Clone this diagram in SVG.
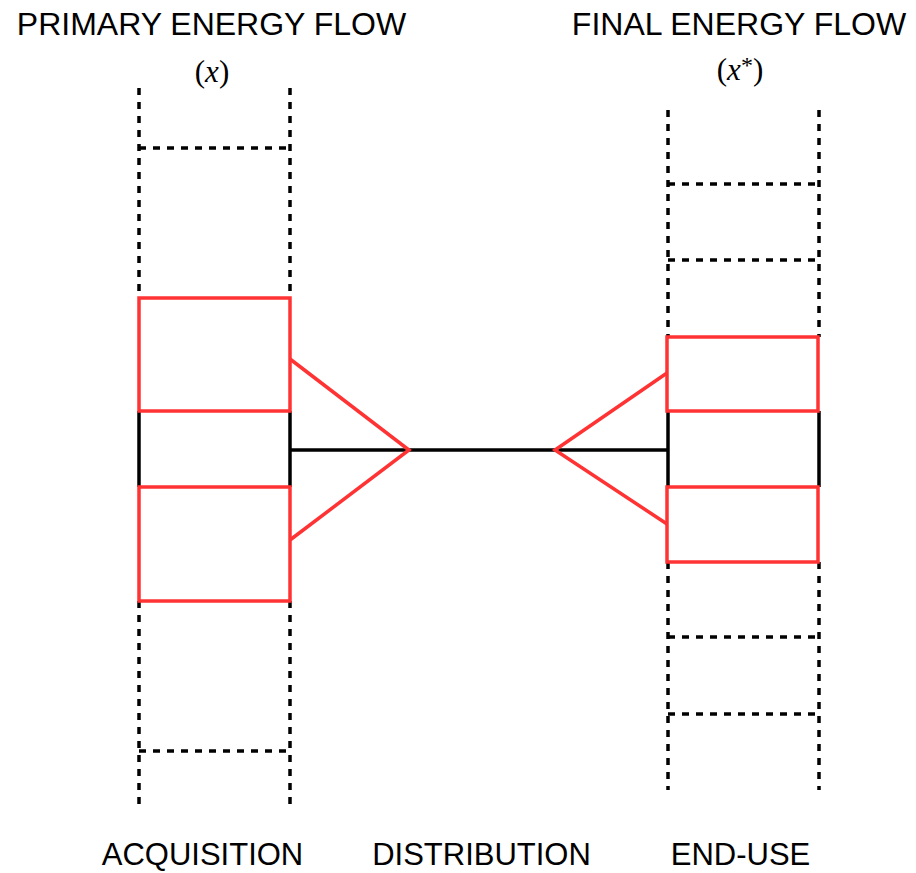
<svg xmlns="http://www.w3.org/2000/svg" width="916" height="873" viewBox="0 0 916 873">
  <style>
    .lbl { font-family: "Liberation Sans", Arial, sans-serif; font-size: 31px; fill: #000; text-anchor: middle; }
    .ttl { font-size: 32px; }
    .math { font-family: "Liberation Serif", "Times New Roman", serif; font-size: 31px; fill: #000; text-anchor: middle; }
    .dash { stroke: #000; stroke-width: 3.5; stroke-dasharray: 7 7; fill: none; }
    .solid { stroke: #000; stroke-width: 3.5; fill: none; }
    .red { stroke: #ff3333; stroke-width: 3.5; fill: none; stroke-linejoin: miter; }
  </style>
  <rect width="916" height="873" fill="#fff"/>

  <!-- headings -->
  <text class="lbl ttl" x="211.5" y="35">PRIMARY ENERGY FLOW</text>
  <text class="math" x="212" y="82">(<tspan font-style="italic">x</tspan>)</text>
  <text class="lbl ttl" x="739" y="35">FINAL ENERGY FLOW</text>
  <text class="math" x="740" y="80">(<tspan font-style="italic">x</tspan><tspan font-size="24" dy="-7">*</tspan><tspan dy="7">)</tspan></text>

  <!-- acquisition column -->
  <g id="acquisition">
    <line class="dash" x1="139" y1="88" x2="139" y2="298"/>
    <line class="dash" x1="290" y1="88" x2="290" y2="298"/>
    <line class="dash" x1="139" y1="148" x2="290" y2="148"/>
    <line class="dash" x1="139" y1="601" x2="139" y2="810"/>
    <line class="dash" x1="290" y1="601" x2="290" y2="810"/>
    <line class="dash" x1="139" y1="751" x2="290" y2="751"/>
    <line class="solid" x1="139" y1="411" x2="139" y2="487"/>
    <line class="solid" x1="290" y1="411" x2="290" y2="487"/>
    <rect class="red" x="139" y="298" width="151" height="113"/>
    <rect class="red" x="139" y="487" width="151" height="114"/>
  </g>

  <!-- end-use column -->
  <g id="end-use">
    <line class="dash" x1="668" y1="110" x2="668" y2="337"/>
    <line class="dash" x1="819" y1="110" x2="819" y2="337"/>
    <line class="dash" x1="668" y1="184" x2="819" y2="184"/>
    <line class="dash" x1="668" y1="260" x2="819" y2="260"/>
    <line class="dash" x1="668" y1="562" x2="668" y2="790"/>
    <line class="dash" x1="819" y1="562" x2="819" y2="790"/>
    <line class="dash" x1="668" y1="637" x2="819" y2="637"/>
    <line class="dash" x1="668" y1="714" x2="819" y2="714"/>
    <line class="solid" x1="668" y1="411" x2="668" y2="487"/>
    <line class="solid" x1="819" y1="411" x2="819" y2="487"/>
    <rect class="red" x="667" y="337" width="151" height="74"/>
    <rect class="red" x="667" y="487" width="151" height="75"/>
  </g>

  <!-- distribution link -->
  <g id="connectors">
    <line class="solid" x1="290" y1="450" x2="667" y2="450"/>
    <polyline class="red" points="290,359 409,450 290,540"/>
    <polyline class="red" points="667,373 555,450 667,524"/>
  </g>

  <!-- stage labels -->
  <text class="lbl" x="202.5" y="865">ACQUISITION</text>
  <text class="lbl" x="481.5" y="865">DISTRIBUTION</text>
  <text class="lbl" x="740.5" y="865">END-USE</text>
</svg>
